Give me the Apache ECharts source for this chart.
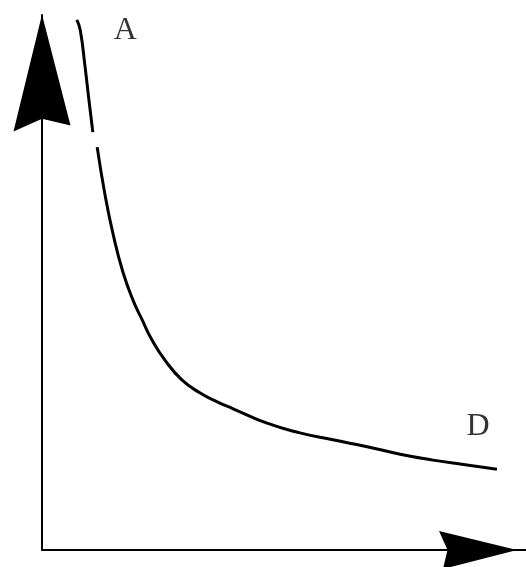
<!DOCTYPE html>
<html>
<head>
<meta charset="utf-8">
<script src="https://cdn.jsdelivr.net/npm/echarts@6/dist/echarts.min.js"></script>
<style>
  html, body { margin: 0; padding: 0; background: #fff; }
  #chart { width: 526px; height: 567px; }
</style>
</head>
<body>
<div id="chart"></div>
<script>
// 曲线上段（箭头附近断开）
const curveTopX = [7.2, 7.9, 8.9, 9.7, 10.5]
const curveTopY = [99.1, 97.2, 90.3, 84.1, 78.1]
// 曲线主体
const curveX = [11.4, 13.0, 14.7, 16.7, 18.8, 20.7, 22.7, 25.4, 28.9, 32.6, 36.2, 39.5, 46.5, 53.3, 60.1, 67.2, 74.0, 80.8, 87.8, 94.0]
const curveY = [75.3, 66.5, 59.0, 52.0, 46.7, 43.0, 39.3, 35.5, 31.8, 29.4, 27.7, 26.4, 23.7, 21.9, 20.6, 19.3, 17.9, 16.8, 15.9, 15.1]
// 端点标注
const pointNames = ['A', 'D']
const pointX = [17.2, 90.1]
const pointY = [97.0, 23.0]

const pairs = (xs, ys) => xs.map((x, i) => [x, ys[i]])

const chart = echarts.init(document.getElementById('chart'))

// 箭头形状（尖端朝上，底部略凹）
const arrowPath = 'path://M29,0 L58,113 L29,106 L0,119 Z'

const lineSeries = (data) => ({
  type: 'line',
  data: data,
  smooth: 0.5,
  showSymbol: false,
  lineStyle: { color: '#000', width: 3 }
})

const option = {
  animation: false,
  backgroundColor: '#fff',
  grid: { left: 42, right: 0, top: 15, bottom: 17 },
  xAxis: {
    type: 'value',
    min: 0,
    max: 100,
    splitLine: { show: false },
    axisTick: { show: false },
    axisLabel: { show: false },
    axisLine: {
      lineStyle: { color: '#000', width: 2 },
      symbol: ['none', arrowPath],
      symbolSize: [38, 96],
      symbolOffset: [0, -48]
    }
  },
  yAxis: {
    type: 'value',
    min: 0,
    max: 100,
    splitLine: { show: false },
    axisTick: { show: false },
    axisLabel: { show: false },
    axisLine: {
      lineStyle: { color: '#000', width: 2 },
      symbol: ['none', arrowPath],
      symbolSize: [59, 117],
      symbolOffset: [0, -58]
    }
  },
  series: [
    lineSeries(pairs(curveTopX, curveTopY)),
    lineSeries(pairs(curveX, curveY)),
    {
      type: 'scatter',
      symbolSize: 0,
      data: pointNames.map((n, i) => ({ name: n, value: [pointX[i], pointY[i]] })),
      label: {
        show: true,
        position: 'inside',
        formatter: '{b}',
        color: '#000',
        fontFamily: 'Liberation Serif',
        fontSize: 32
      }
    }
  ]
}

chart.setOption(option)
</script>
</body>
</html>
